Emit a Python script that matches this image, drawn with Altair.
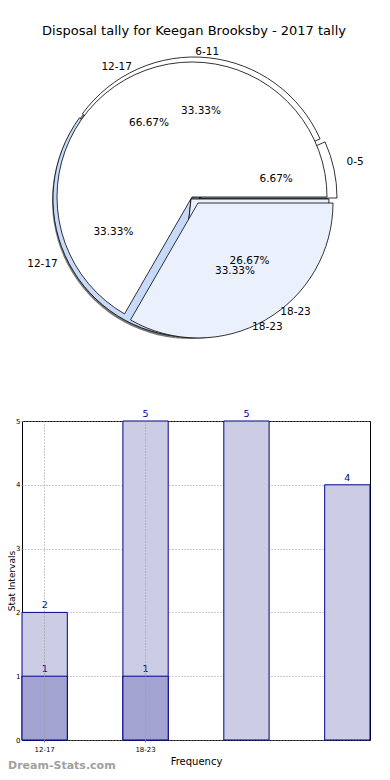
import math
import json
import altair as alt
import pandas as pd

# ---------------- data ----------------
title_text = "Disposal tally for Keegan Brooksby - 2017 tally"

pie1_categories = ["0-5", "6-11", "12-17", "18-23"]
pie1_counts = [1, 5, 5, 4]

pie2_categories = ["12-17", "18-23"]
pie2_counts = [2, 1]

bar_tick_labels = ["12-17", "18-23"]
bar_light_values = [2, 5, 5, 4]
bar_dark_values = [1, 1]
y_ticks = [0, 1, 2, 3, 4, 5]
x_title = "Frequency"
y_title = "Stat Intervals"
watermark = "Dream-Stats.com"

# ---------------- layout / style ----------------
W, H = 348, 319
PAD = {"left": 14, "top": 413, "right": 4, "bottom": 32}
FONT = "DejaVu Sans"

label_center = (170, -224)
pie1_center = (169, -222)
pie2_center = (170, -224)
R1, R2 = 138, 135
pie1_explode = {"0-5": (8, -1), "6-11": (3, -4)}
pie2_explode = {"18-23": (6, 6)}
pie1_fill = {"0-5": "white", "6-11": "white", "12-17": "#c8daf9", "18-23": "#eaf0fc"}
pie2_fill = {"12-17": "white", "18-23": "#ebf1fc"}
shadow_offset = (-1, 2)

theta_scale = alt.Scale(domain=[0, 1], range=[2.5 * math.pi, 0.5 * math.pi])


def pie_base(cats, counts):
    df = pd.DataFrame({"category": cats, "count": counts, "order": list(range(len(cats)))})
    return (
        alt.Chart(df)
        .transform_joinaggregate(total="sum(count)")
        .transform_window(cum="sum(count)", sort=[alt.SortField("order")], frame=[None, 0])
        .transform_calculate(
            f0="(datum.cum - datum.count) / datum.total",
            f1="datum.cum / datum.total",
            fm="(datum.cum - datum.count / 2) / datum.total",
            pct="format(datum.count / datum.total, '.2%')",
        )
        .transform_calculate(
            rlab="1 / sqrt(pow(cos(2*PI*datum.fm)/168, 2) + pow(sin(2*PI*datum.fm)/146, 2))"
        )
    )


def arc_layer(base, cx, cy, r, cat=None, **mark):
    b = base if cat is None else base.transform_filter(alt.datum.category == cat)
    return b.mark_arc(radius=r, **mark).encode(
        theta=alt.Theta("f0:Q", scale=theta_scale, stack=None),
        theta2="f1:Q",
        x=alt.value(cx),
        y=alt.value(cy),
    )


def label_layers(base):
    names = base.mark_text(font=FONT, fontSize=10.5, color="black").encode(
        theta=alt.Theta("fm:Q", scale=theta_scale, stack=None),
        radius=alt.Radius("rlab:Q", scale=None),
        text="category:N",
        x=alt.value(label_center[0]),
        y=alt.value(label_center[1]),
    )
    pcts = base.mark_text(font=FONT, fontSize=10.5, color="black", radius=86).encode(
        theta=alt.Theta("fm:Q", scale=theta_scale, stack=None),
        text="pct:N",
        x=alt.value(label_center[0]),
        y=alt.value(label_center[1]),
    )
    return [names, pcts]


pie1 = pie_base(pie1_categories, pie1_counts)
pie2 = pie_base(pie2_categories, pie2_counts)

layers = []
# shadow
layers.append(arc_layer(pie1, pie1_center[0] + shadow_offset[0], pie1_center[1] + shadow_offset[1], R1,
                        fill="#777777"))
# back pie
for c in pie1_categories:
    dx, dy = pie1_explode.get(c, (0, 0))
    layers.append(arc_layer(pie1, pie1_center[0] + dx, pie1_center[1] + dy, R1, cat=c,
                            fill=pie1_fill[c], stroke="black", strokeWidth=0.8))
# front pie
for c in pie2_categories:
    dx, dy = pie2_explode.get(c, (0, 0))
    layers.append(arc_layer(pie2, pie2_center[0] + dx, pie2_center[1] + dy, R2, cat=c,
                            fill=pie2_fill[c], stroke="black", strokeWidth=0.8))
layers += label_layers(pie1)
layers += label_layers(pie2)

# title
title_df = pd.DataFrame({"t": [title_text]})
layers.append(
    alt.Chart(title_df).mark_text(font=FONT, fontSize=13, align="center", baseline="alphabetic", color="black")
    .encode(text="t:N", x=alt.value(172), y=alt.value(-386))
)

# ---------------- bars ----------------
slots = list(range(len(bar_light_values)))
light_df = pd.DataFrame({"slot": slots, "value": bar_light_values})
dark_df = pd.DataFrame({"slot": list(range(len(bar_dark_values))), "value": bar_dark_values})

label_expr = f"{json.dumps(bar_tick_labels)}[datum.value] || ''"
x_enc = alt.X(
    "slot:O",
    scale=alt.Scale(domain=slots, paddingInner=0.551, paddingOuter=0),
    axis=alt.Axis(
        values=list(range(len(bar_tick_labels))),
        labelExpr=label_expr,
        labelAngle=0,
        labelFontSize=7,
        labelPadding=3,
        tickSize=2,
        tickColor="#888888",
        domain=False,
        grid=True,
        gridDash=[1, 2],
        gridColor="#999999",
        zindex=1,
        title=x_title,
        titleFontSize=10,
        titleFontWeight="normal",
        titlePadding=4,
    ),
)
y_enc = alt.Y(
    "value:Q",
    scale=alt.Scale(domain=[0, 5], nice=False),
    axis=alt.Axis(
        values=y_ticks,
        format="d",
        labelFontSize=7,
        labelPadding=1,
        tickSize=1,
        tickColor="#888888",
        domain=False,
        grid=True,
        gridDash=[1, 2],
        gridColor="#999999",
        title=y_title,
        titleFontSize=9,
        titleFontWeight="normal",
        titleAngle=270,
        titleBaseline="alphabetic",
        titleAlign="center",
        titleX=-8,
        titleY=H / 2,
    ),
)

light = alt.Chart(light_df).mark_bar(fill="#ccccE5", stroke="#00008b", strokeWidth=1).encode(x=x_enc, y=y_enc)
dark = alt.Chart(dark_df).mark_bar(fill="#a3a3d1", stroke="#00008b", strokeWidth=1).encode(x=x_enc, y=y_enc)
light_txt = alt.Chart(light_df).mark_text(font=FONT, fontSize=9.5, dy=-4, baseline="alphabetic", color="#00008b").encode(
    x=x_enc, y=y_enc, text="value:Q")
dark_txt = alt.Chart(dark_df).mark_text(font=FONT, fontSize=9.5, dy=-4, baseline="alphabetic", color="#00008b").encode(
    x=x_enc, y=y_enc, text="value:Q")

wm_df = pd.DataFrame({"t": [watermark]})
wm = alt.Chart(wm_df).mark_text(font=FONT, fontSize=11, fontWeight="bold", align="left", baseline="alphabetic",
                                color="#a0a0a0").encode(text="t:N", x=alt.value(-14), y=alt.value(348))

chart = (
    alt.layer(*layers, light, dark, light_txt, dark_txt, wm)
    .properties(width=W, height=H, autosize=alt.AutoSizeParams(type="none"), padding=PAD)
    .configure(font=FONT)
    .configure_view(stroke="black", strokeWidth=1)
)

chart.save("out.html", embed_options={"renderer": "svg", "actions": False})
